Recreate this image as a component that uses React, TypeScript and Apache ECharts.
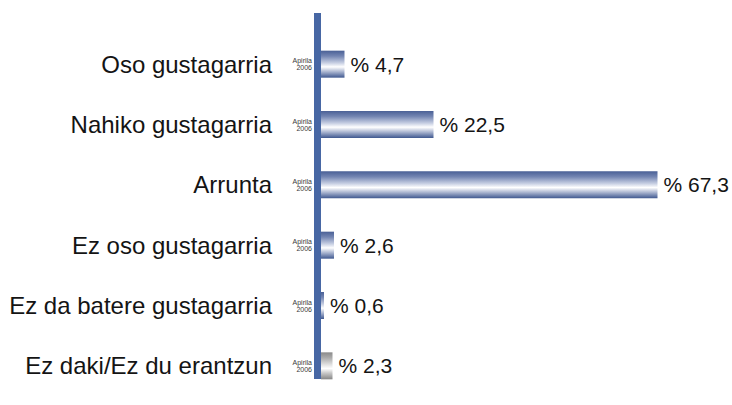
import React, { useEffect, useRef } from "react";
import * as echarts from "echarts";

const categories = [
  "Oso gustagarria",
  "Nahiko gustagarria",
  "Arrunta",
  "Ez oso gustagarria",
  "Ez da batere gustagarria",
  "Ez daki/Ez du erantzun",
];
const values = [4.7, 22.5, 67.3, 2.6, 0.6, 2.3];
const periodLabel = "Apirila\n2006";

const FONT = "'Liberation Sans', Arial, Helvetica, sans-serif";

const blueGrad = new echarts.graphic.LinearGradient(0, 0, 0, 1, [
  { offset: 0, color: "#4a6096" },
  { offset: 0.2, color: "#7385b2" },
  { offset: 0.45, color: "#c6cee2" },
  { offset: 0.6, color: "#ffffff" },
  { offset: 0.78, color: "#aab5d0" },
  { offset: 1, color: "#3e578f" },
]);
const grayGrad = new echarts.graphic.LinearGradient(0, 0, 0, 1, [
  { offset: 0, color: "#8a8a8a" },
  { offset: 0.2, color: "#ababab" },
  { offset: 0.45, color: "#e0e0e0" },
  { offset: 0.6, color: "#ffffff" },
  { offset: 0.78, color: "#c4c4c4" },
  { offset: 1, color: "#858585" },
]);

export default function App() {
  const ref = useRef<HTMLDivElement>(null);
  useEffect(() => {
    document.body.style.margin = "0";
    if (!ref.current) return;
    const chart = echarts.init(ref.current, null, { renderer: "svg" });
    chart.setOption({
      animation: false,
      backgroundColor: "#ffffff",
      grid: { left: 321, right: 11, top: 34, bottom: 9, containLabel: false },
      xAxis: {
        type: "value",
        min: 0,
        max: 80,
        show: false,
      },
      yAxis: [
        {
          type: "category",
          data: categories,
          inverse: true,
          axisLine: { show: false },
          axisTick: { show: false },
          axisLabel: {
            margin: 49,
            fontSize: 24,
            color: "#141414",
            fontFamily: FONT,
          },
        },
        {
          type: "category",
          data: categories,
          inverse: true,
          position: "left",
          offset: 0,
          axisLine: { show: false },
          axisTick: { show: false },
          axisLabel: {
            margin: 9,
            fontSize: 7,
            lineHeight: 7,
            color: "#3a3a3a",
            fontFamily: FONT,
            align: "right",
            formatter: () => periodLabel,
          },
        },
      ],
      graphic: [
        {
          type: "rect",
          shape: { x: 314, y: 13, width: 7, height: 366 },
          style: { fill: "#4767a4" },
          z: 100,
        },
      ],
      series: [
        {
          type: "bar",
          yAxisIndex: 0,
          barWidth: 27,
          data: values.map((v, i) => ({
            value: v,
            itemStyle: { color: i === values.length - 1 ? grayGrad : blueGrad },
          })),
          label: {
            show: true,
            position: "right",
            distance: 6,
            fontSize: 21,
            color: "#141414",
            fontFamily: FONT,
            formatter: (p: any) => "% " + String(p.value).replace(".", ","),
          },
        },
      ],
    });
    return () => chart.dispose();
  }, []);
  return <div ref={ref} style={{ width: 732, height: 405 }} />;
}
